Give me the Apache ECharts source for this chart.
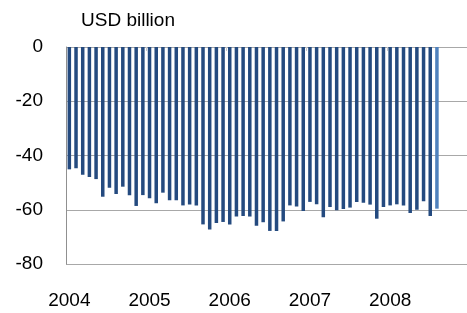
<!DOCTYPE html>
<html>
<head>
<meta charset="utf-8">
<script src="https://cdn.jsdelivr.net/npm/echarts@6/dist/echarts.min.js"></script>
<style>
  html, body { margin: 0; padding: 0; background: #fff; }
  #chart { width: 467px; height: 313px; }
</style>
</head>
<body>
<div id="chart"></div>
<script>
// monthly categories, Jan 2004 .. Dec 2008 (data ends Aug 2008)
const months = [
  "2004-01", "2004-02", "2004-03", "2004-04", "2004-05", "2004-06", "2004-07", "2004-08", "2004-09", "2004-10", "2004-11", "2004-12",
  "2005-01", "2005-02", "2005-03", "2005-04", "2005-05", "2005-06", "2005-07", "2005-08", "2005-09", "2005-10", "2005-11", "2005-12",
  "2006-01", "2006-02", "2006-03", "2006-04", "2006-05", "2006-06", "2006-07", "2006-08", "2006-09", "2006-10", "2006-11", "2006-12",
  "2007-01", "2007-02", "2007-03", "2007-04", "2007-05", "2007-06", "2007-07", "2007-08", "2007-09", "2007-10", "2007-11", "2007-12",
  "2008-01", "2008-02", "2008-03", "2008-04", "2008-05", "2008-06", "2008-07", "2008-08", "2008-09", "2008-10", "2008-11", "2008-12"
];

// trade balance, USD billion
const balance = [
  -45.1, -44.7, -47.1, -47.9, -48.7, -55.2, -51.9, -54.2, -51.5, -54.7, -58.6, -54.6,
  -55.8, -57.6, -53.7, -56.5, -56.5, -58.4, -58.1, -58.4, -65.4, -67.3, -64.9, -64.5,
  -65.4, -62.5, -62.3, -62.5, -65.9, -64.6, -67.8, -67.8, -64.3, -58.4, -58.8, -60.5,
  -57.1, -58.0, -62.8, -59.0, -60.2, -59.7, -59.2, -57.1, -57.4, -58.1, -63.3, -59.0,
  -58.4, -58.0, -58.4, -61.2, -60.0, -56.9, -62.3, -59.6
];

const yTicks = { min: -80, max: 0, step: 20 };

const dark = "#244a7f";
const light = "#4f81bd";

const chart = echarts.init(document.getElementById("chart"));

const barData = balance.map((v, i) => ({
  value: v,
  itemStyle: { color: i === balance.length - 1 ? light : dark }
}));

const font = "Liberation Sans, Arial, sans-serif";

chart.setOption({
  animation: false,
  title: {
    text: "USD billion",
    left: 76,
    top: 6,
    textStyle: { fontFamily: font, fontSize: 19, fontWeight: "normal", color: "#000" }
  },
  grid: { left: 66, top: 47, width: 405, height: 217 },
  xAxis: [
    {
      type: "category",
      data: months,
      position: "bottom",
      axisLine: { show: false, onZero: false },
      axisTick: { show: false },
      axisLabel: {
        interval: (i) => i % 12 === 0,
        formatter: (v) => v.slice(0, 4),
        margin: 27,
        fontFamily: font,
        fontSize: 19,
        color: "#000"
      }
    },
    {
      type: "category",
      data: months,
      position: "top",
      axisLine: { show: false },
      axisTick: {
        show: true,
        inside: true,
        length: 4,
        interval: (i) => i % 12 === 0 && i > 0,
        lineStyle: { color: "#c8c8c8" }
      },
      axisLabel: { show: false }
    }
  ],
  yAxis: {
    type: "value",
    min: yTicks.min,
    max: yTicks.max,
    interval: yTicks.step,
    axisLine: { show: true, lineStyle: { color: "#909090" } },
    axisTick: { show: false },
    splitLine: { show: true, lineStyle: { color: "#a8a8a8", width: 1 } },
    axisLabel: {
      margin: 23,
      fontFamily: font,
      fontSize: 19,
      color: "#000"
    }
  },
  series: [
    {
      type: "bar",
      data: barData,
      barWidth: 3.5,
      xAxisIndex: 0
    }
  ]
});
</script>
</body>
</html>
